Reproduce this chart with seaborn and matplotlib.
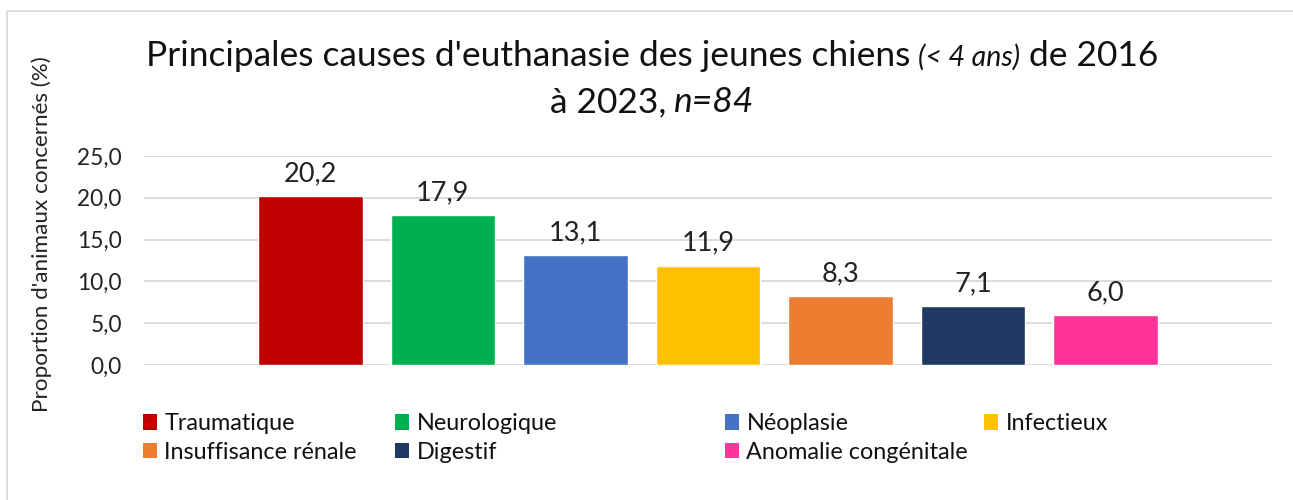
import numpy as np
import pandas as pd
import seaborn as sns
from matplotlib import pyplot as plt
from matplotlib.patches import Patch, Rectangle

causes = ['Traumatique', 'Neurologique', 'Néoplasie', 'Infectieux',
          'Insuffisance rénale', 'Digestif', 'Anomalie congénitale']
values = [20.2, 17.9, 13.1, 11.9, 8.3, 7.1, 6.0]
colors = ['#C00000', '#00B050', '#4472C4', '#FFC000', '#ED7D31', '#203864', '#FF3399']
yticks = [0, 5, 10, 15, 20, 25]

sns.set_style('white')
plt.rcParams['font.family'] = ['Lato', 'DejaVu Sans']

W, H = 1293, 500
fig = plt.figure(figsize=(W / 100, H / 100), dpi=100)
ax = fig.add_axes([144 / W, 1 - 365 / H, (1272 - 144) / W, (365 - 156) / H])

df = pd.DataFrame({'cause': causes, 'value': values})
sns.barplot(data=df, x='cause', y='value', hue='cause', palette=colors,
            width=0.79, legend=False, saturation=1, ax=ax, zorder=3)

ax.set_xlim(-1.255, 7.255)
ax.set_ylim(0, 25)
ax.set_yticks(yticks)
ax.set_yticklabels([f'{v:.1f}'.replace('.', ',') for v in yticks], fontsize=16.3, color='#222222')
ax.set_xticks([])
ax.set_xlabel('')
ax.set_ylabel('')
ax.tick_params(axis='y', length=0, pad=16)
ax.grid(axis='y', color='#D9D9D9', linewidth=1.3, zorder=0)
ax.set_axisbelow(True)
sns.despine(ax=ax, left=True, bottom=True)

for cont, v in zip(ax.containers, values):
    ax.bar_label(cont, labels=[f'{v:.1f}'.replace('.', ',')], padding=7, fontsize=19.5, color='#222222')

# y label
fig.text(42 / W, 1 - 234 / H, "Proportion d'animaux concernés (%)", rotation=90,
         ha='center', va='center', fontsize=16.2, color='#222222')

# title with mixed styles
fig.canvas.draw()
r = fig.canvas.get_renderer()


def title_line(parts, y_base, cx):
    texts = []
    for s, size, style in parts:
        t = fig.text(0, 1 - y_base / H, s, fontsize=size, style=style,
                     va='baseline', ha='left', color='#111111')
        texts.append(t)
    space = 8
    widths = [t.get_window_extent(r).width for t in texts]
    total = sum(widths) + space * (len(texts) - 1)
    x = cx - total / 2
    for t, w in zip(texts, widths):
        t.set_x(x / W)
        x += w + space


title_line([("Principales causes d'euthanasie des jeunes chiens", 25.5, 'normal'),
            ("(< 4 ans)", 20.5, 'italic'),
            ("de 2016", 25.5, 'normal')], 66, 652)
title_line([("à 2023,", 25.5, 'normal'), ("n=84", 25.5, 'italic')], 112, 652)

# legend in four columns
handles = [Patch(facecolor=c, edgecolor='none') for c in colors]
col_x = [143, 395, 725, 984]
col_items = [[0, 4], [1, 5], [2, 6], [3]]
for x, items in zip(col_x, col_items):
    fig.legend([handles[i] for i in items], [causes[i] for i in items],
               loc='upper left', bbox_to_anchor=(x / W, 1 - 413 / H),
               frameon=False, fontsize=16.8, handlelength=0.62, handleheight=0.66,
               handletextpad=0.3, labelspacing=0.33, borderpad=0, borderaxespad=0,
               labelcolor='#111111')

# chart border
fig.patches.append(Rectangle((7 / W, -0.1), 1.2, 1 - 11 / H + 0.1, transform=fig.transFigure,
                             fill=False, edgecolor='#D9D9D9', linewidth=1.3))

fig.savefig('out.png', dpi=100)
